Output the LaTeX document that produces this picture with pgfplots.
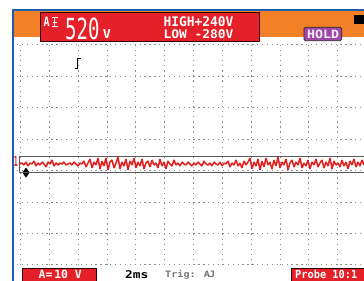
\documentclass[border=0pt]{standalone}
\usepackage{fontspec}
\setmainfont{DejaVu Sans}
\newfontfamily\lcd{DejaVu Sans Mono}
\usepackage{graphicx}
\usepackage{pgfplots}
\pgfplotsset{compat=1.18}
\definecolor{scopeorange}{RGB}{241,128,38}
\definecolor{lcdred}{RGB}{230,32,40}
\definecolor{borderblue}{RGB}{32,92,172}
\definecolor{holdpurple}{RGB}{158,72,168}
\definecolor{tracered}{RGB}{226,30,30}
\begin{document}
\begin{tikzpicture}
\begin{axis}[
  scale only axis, width=364pt, height=281pt,
  xmin=0, xmax=364, ymin=0, ymax=281, y dir=reverse,
  hide axis, clip=false]
% frame
\fill[scopeorange] (axis cs:13.3,11.3) rectangle (axis cs:364,37.3);
\draw[borderblue, line width=2.2pt] (axis cs:12.8,9.5) -- (axis cs:12.8,281);
\draw[borderblue, line width=1.6pt] (axis cs:12,10.2) -- (axis cs:364,10.2);
% grid
\pgfplotsinvokeforeach{0,...,11}{
  \draw[black!45, line width=1pt, dash pattern=on 1.3pt off 3.8pt]
    (axis cs:{20.7+28.82*#1},44.7) -- (axis cs:{20.7+28.82*#1},265);
}
\pgfplotsinvokeforeach{0,...,7}{
  \draw[black!45, line width=1pt, dash pattern=on 1.3pt off 3.6pt]
    (axis cs:17,{44.7+31.47*#1}) -- (axis cs:364,{44.7+31.47*#1});
}
% trace window
\draw[black!65, line width=1.2pt] (axis cs:364,156.7) -- (axis cs:19.5,156.7) -- (axis cs:19.5,172.7) -- (axis cs:364,172.7);
\addplot[tracered, line width=1.5pt, line join=bevel] coordinates {
(20,164)(22,163)(24,165)(26,162)(28,166)(30,163)(32,164)(34,161)(36,166)(38,163)
(40,165)(42,162)(44,164)(46,167)(48,162)(50,164)(52,160)(54,166)(56,163)(58,165)
(60,163)(62,164)(64,162)(66,165)(68,164)(70,163)(72,165)(74,162)(76,164)(78,166)
(80,163)(82,164)(84,161)(86,167)(88,163)(90,159)(92,168)(94,162)(96,165)(98,158)
(100,169)(102,161)(104,166)(106,158)(108,170)(110,162)(112,160)(114,168)(116,163)(118,157)
(120,169)(122,162)(124,166)(126,159)(128,170)(130,161)(132,165)(134,158)(136,168)(138,162)
(140,166)(142,159)(144,169)(146,163)(148,161)(150,167)(152,160)(154,165)(156,163)(158,168)
(160,159)(162,166)(164,162)(166,169)(168,161)(170,164)(172,166)(174,160)(176,165)(178,163)
(180,166)(182,162)(184,164)(186,165)(188,162)(190,164)(192,166)(194,163)(196,165)(198,162)
(200,164)(202,166)(204,161)(206,164)(208,165)(210,163)(212,166)(214,162)(216,164)(218,165)
(220,162)(222,166)(224,163)(226,164)(228,161)(230,167)(232,163)(234,165)(236,160)(238,166)
(240,163)(242,168)(244,161)(246,165)(248,162)(250,158)(252,169)(254,162)(256,166)(258,159)
(260,170)(262,161)(264,167)(266,158)(268,165)(270,162)(272,169)(274,160)(276,166)(278,157)
(280,168)(282,162)(284,165)(286,159)(288,170)(290,163)(292,160)(294,167)(296,162)(298,165)
(300,158)(302,168)(304,163)(306,166)(308,160)(310,169)(312,162)(314,165)(316,159)(318,167)
(320,163)(322,160)(324,168)(326,162)(328,166)(330,158)(332,169)(334,161)(336,165)(338,163)
(340,167)(342,160)(344,166)(346,162)(348,169)(350,161)(352,165)(354,159)(356,167)(358,162)
(360,166)(362,160)(364,165)
};
% channel and ground markers
\node[anchor=west, inner sep=0, text=tracered] at (axis cs:13.8,161.5) {\resizebox*{4pt}{10pt}{\lcd\bfseries 1}};
\fill[black] (axis cs:22.8,172) -- (axis cs:29.2,172) -- (axis cs:26,167.5) -- cycle;
\fill[black] (axis cs:22.8,173.2) -- (axis cs:29.2,173.2) -- (axis cs:26,177.7) -- cycle;
% trigger marker
\draw[black, line width=1.6pt] (axis cs:74.5,68.5) -- (axis cs:77.5,68.5) -- (axis cs:77.5,58.5) -- (axis cs:80.5,58.5);
% top readout
\draw[fill=lcdred, draw=black!80!red, line width=0.9pt] (axis cs:40.7,12.7) rectangle (axis cs:259.3,41.7);
\node[anchor=north west, inner sep=0, text=white] at (axis cs:43.3,17.3) {\resizebox*{6pt}{9.4pt}{\lcd\bfseries A}};
\draw[white, line width=1pt] (axis cs:54.5,17.8) -- (axis cs:54.5,26.8);
\draw[white, line width=1pt] (axis cs:51.5,17.8) -- (axis cs:57.5,17.8);
\draw[white, line width=1pt] (axis cs:52.5,22.3) -- (axis cs:56.5,22.3);
\draw[white, line width=1pt] (axis cs:51.5,26.8) -- (axis cs:57.5,26.8);
\node[anchor=north west, inner sep=0, text=white] at (axis cs:65,17.3) {\resizebox*{34.3pt}{22pt}{\lcd 520}};
\node[anchor=north west, inner sep=0, text=white] at (axis cs:102.7,29.3) {\resizebox*{8pt}{9pt}{\lcd\bfseries V}};
\node[anchor=north west, inner sep=0, text=white] at (axis cs:163.3,16.7) {\resizebox*{70pt}{10pt}{\lcd\bfseries HIGH+240V}};
\node[anchor=north west, inner sep=0, text=white] at (axis cs:163.3,29.3) {\resizebox*{70pt}{9pt}{\lcd\bfseries LOW -280V}};
% hold
\draw[fill=holdpurple, draw=black!85, line width=0.8pt, rounded corners=1.5pt] (axis cs:304,27.3) rectangle (axis cs:341.7,40.7);
\node[anchor=north west, inner sep=0, text=white!90!holdpurple] at (axis cs:307,29.6) {\resizebox*{32pt}{8.6pt}{\lcd\bfseries HOLD}};
\fill[black] (axis cs:354,15) rectangle (axis cs:366,24);
% bottom status
\draw[fill=lcdred, draw=black!80!red, line width=0.8pt] (axis cs:22.7,268.3) rectangle (axis cs:96.7,283);
\node[anchor=north west, inner sep=0, text=white] at (axis cs:38.5,270.3) {\resizebox*{43pt}{8.6pt}{\lcd\bfseries A=\,10 V}};
\node[anchor=north west, inner sep=0, text=black] at (axis cs:125,270.6) {\resizebox*{23.3pt}{8pt}{\lcd\bfseries 2ms}};
\node[anchor=north west, inner sep=0, text=black!55] at (axis cs:165,270.3) {\resizebox*{50pt}{9pt}{\lcd\bfseries Trig: A\kern-0.1em J}};
\draw[fill=lcdred, draw=black!80!red, line width=0.8pt] (axis cs:291.7,268.3) rectangle (axis cs:368,283);
\node[anchor=north west, inner sep=0, text=white] at (axis cs:295,269.8) {\resizebox*{62pt}{8.6pt}{\lcd\bfseries Probe 10:1}};
\end{axis}
\pgfresetboundingbox
\path (current axis.south west) rectangle (current axis.north east);
\end{tikzpicture}
\end{document}
